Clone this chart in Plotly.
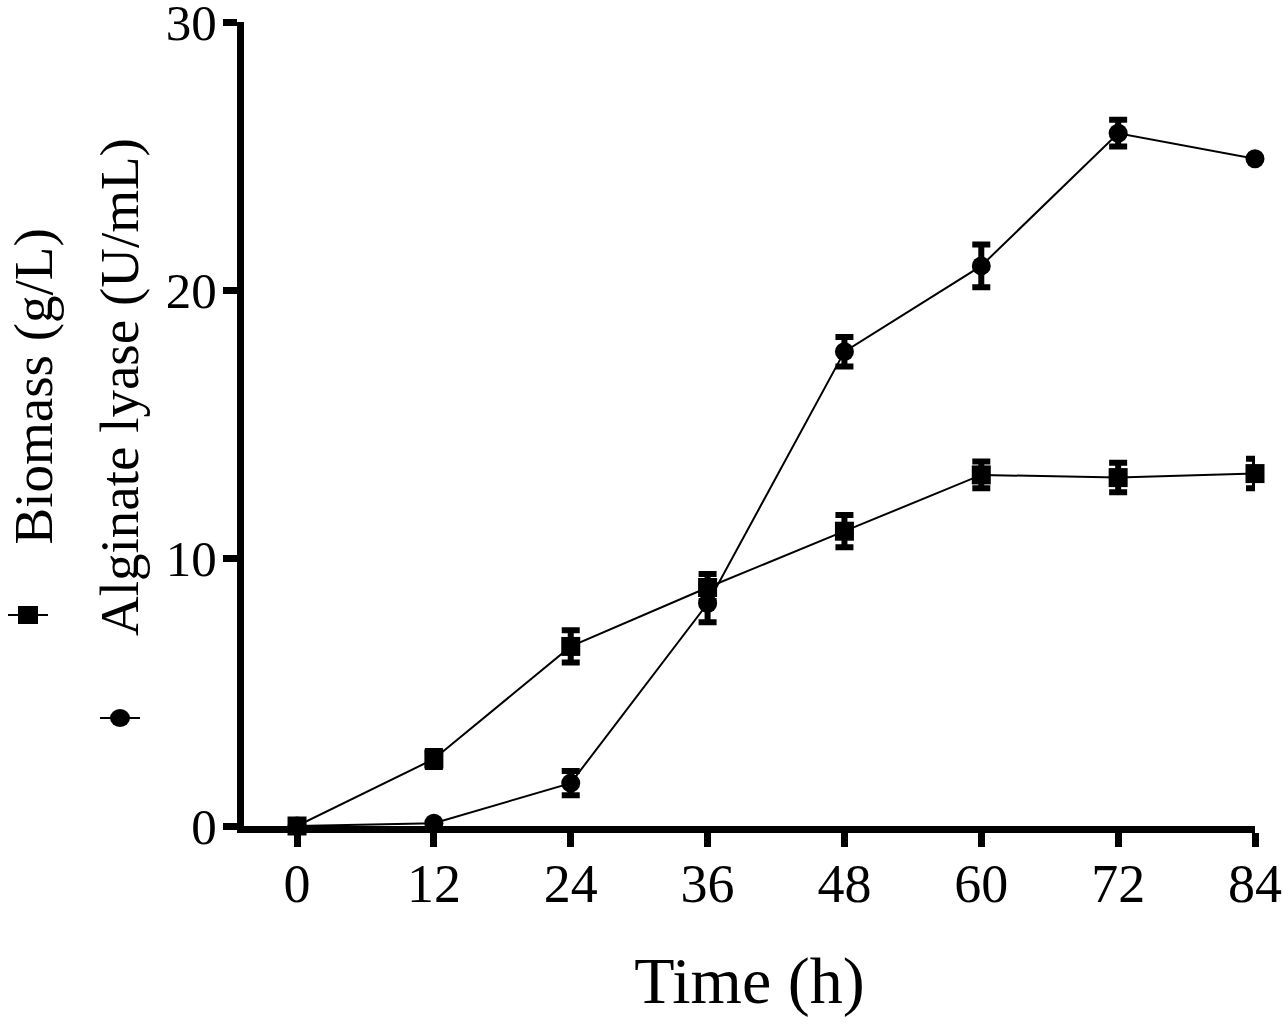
import plotly.graph_objects as go

time_h = [0, 12, 24, 36, 48, 60, 72, 84]
biomass = [0, 2.5, 6.7, 8.9, 11.0, 13.1, 13.0, 13.15]
biomass_err = [0, 0.3, 0.6, 0.5, 0.6, 0.5, 0.55, 0.55]
lyase = [0, 0.1, 1.6, 8.3, 17.7, 20.9, 25.85, 24.9]
lyase_err = [0, 0, 0.45, 0.7, 0.55, 0.8, 0.5, 0]

FONT = "Liberation Serif"
W, H = 1283, 1024
L, R, T, B = 244, W - 1255, 22, H - 826


def px_x(p):
    return (p - L) / (W - L - R)


def px_y(p):
    return (H - B - p) / (H - T - B)


fig = go.Figure()
fig.add_trace(go.Scatter(
    x=time_h, y=biomass, name="Biomass (g/L)", mode="lines+markers",
    line=dict(color="black", width=2),
    marker=dict(symbol="square", size=19, color="black"),
    error_y=dict(type="data", array=biomass_err, color="black", thickness=6, width=9),
    cliponaxis=False,
))
fig.add_trace(go.Scatter(
    x=time_h, y=lyase, name="Alginate lyase (U/mL)", mode="lines+markers",
    line=dict(color="black", width=2),
    marker=dict(symbol="circle", size=19, color="black"),
    error_y=dict(type="data", array=lyase_err, color="black", thickness=6, width=9),
    cliponaxis=False,
))

# rotated legend on the left, as in the original figure
fig.add_annotation(text="Biomass (g/L)", textangle=-90, xref="paper", yref="paper",
                   x=px_x(0), y=px_y(547), xanchor="left", yanchor="bottom",
                   showarrow=False, font=dict(family=FONT, size=55, color="black"))
fig.add_annotation(text="Alginate lyase (U/mL)", textangle=-90, xref="paper", yref="paper",
                   x=px_x(119), y=px_y(638), xanchor="center", yanchor="bottom",
                   showarrow=False, font=dict(family=FONT, size=55, color="black"))
for cx, cy, kind in [(28, 615, "rect"), (120, 718, "circle")]:
    fig.add_shape(type="line", xref="paper", yref="paper", xsizemode="pixel", ysizemode="pixel",
                  xanchor=px_x(cx), yanchor=px_y(cy), x0=-20, x1=20, y0=0, y1=0,
                  line=dict(color="black", width=2))
    fig.add_shape(type=kind, xref="paper", yref="paper", xsizemode="pixel", ysizemode="pixel",
                  xanchor=px_x(cx), yanchor=px_y(cy), x0=-10, x1=10, y0=-9, y1=9,
                  fillcolor="black", line=dict(color="black", width=0))

fig.update_xaxes(range=[-4.65, 84], tickvals=time_h, ticks="outside", ticklen=14, tickwidth=7,
                 tickcolor="black", showline=True, linewidth=7, linecolor="black",
                 showgrid=False, zeroline=False, automargin=False,
                 ticklabelstandoff=-10, ticklabeloverflow="allow",
                 tickfont=dict(family=FONT, size=54, color="black"),
                 title=dict(text="Time (h)", standoff=47, font=dict(family=FONT, size=66, color="black")))
fig.update_yaxes(range=[0, 30], tickvals=[0, 10, 20, 30], ticks="outside", ticklen=14, tickwidth=7,
                 tickcolor="black", showline=True, linewidth=7, linecolor="black",
                 showgrid=False, zeroline=False, automargin=False,
                 ticklabelstandoff=-4, ticklabeloverflow="allow",
                 tickfont=dict(family=FONT, size=51, color="black"))
fig.update_layout(width=W, height=H, margin=dict(l=L, r=R, t=T, b=B),
                  plot_bgcolor="white", paper_bgcolor="white", showlegend=False)
fig.write_html("out.html", config={"displayModeBar": False},
               post_script="document.body.style.margin = '0px';")
